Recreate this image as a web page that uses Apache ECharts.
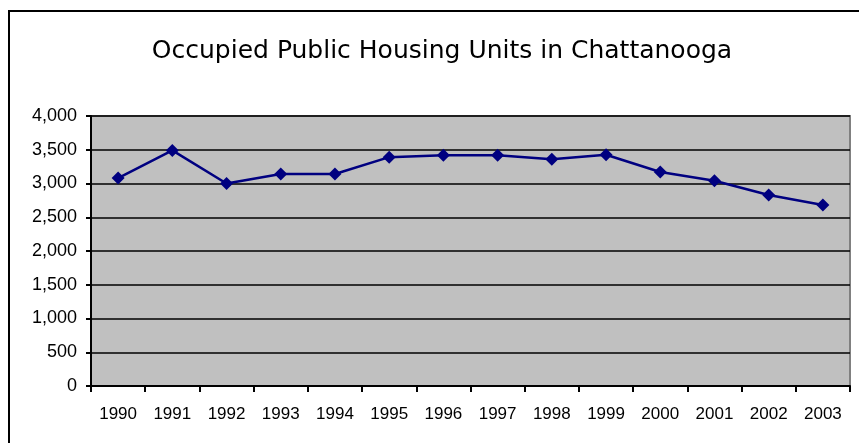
<!DOCTYPE html>
<html>
<head>
<meta charset="utf-8">
<script src="https://cdn.jsdelivr.net/npm/echarts@6/dist/echarts.min.js"></script>
<style>
  html, body { margin: 0; padding: 0; background: #fff; }
  #chart { width: 859px; height: 443px; }
</style>
</head>
<body>
<div id="chart"></div>
<script>
const years = ['1990', '1991', '1992', '1993', '1994', '1995', '1996', '1997', '1998', '1999', '2000', '2001', '2002', '2003'];
const occupiedUnits = [3080, 3490, 3000, 3140, 3140, 3390, 3420, 3420, 3360, 3425, 3170, 3040, 2830, 2680];
const yTicks = { min: 0, max: 4000, step: 500 };

const chart = echarts.init(document.getElementById('chart'));
const font = 'Liberation Sans, Arial, sans-serif';

chart.setOption({
  animation: false,
  backgroundColor: '#fff',
  graphic: [{
    type: 'rect',
    shape: { x: 9, y: 11, width: 870, height: 460 },
    style: { fill: 'none', stroke: '#000', lineWidth: 2 },
    silent: true
  }],
  title: {
    text: 'Occupied Public Housing Units in Chattanooga',
    left: 437,
    top: 34,
    textAlign: 'center',
    textStyle: { fontFamily: 'DejaVu Sans', fontSize: 25, fontWeight: 'normal', color: '#000' }
  },
  grid: {
    left: 91, right: 9, top: 116, bottom: 57,
    show: true,
    backgroundColor: '#C0C0C0',
    borderColor: '#808080',
    borderWidth: 2
  },
  xAxis: {
    type: 'category',
    data: years,
    boundaryGap: true,
    axisLine: { lineStyle: { color: '#000', width: 2 } },
    axisTick: { show: true, length: 6, lineStyle: { color: '#000', width: 2 } },
    axisLabel: { fontFamily: font, fontSize: 17, color: '#000', margin: 20 },
    splitLine: { show: false }
  },
  yAxis: {
    type: 'value',
    min: yTicks.min,
    max: yTicks.max,
    interval: yTicks.step,
    axisLine: { show: true, lineStyle: { color: '#000', width: 2 } },
    axisTick: { show: true, length: 5, lineStyle: { color: '#000', width: 2 } },
    axisLabel: {
      fontFamily: font, fontSize: 18, color: '#000', margin: 14,
      formatter: (v) => v.toLocaleString('en-US')
    },
    splitLine: { show: true, lineStyle: { color: '#000', width: 1.5 } }
  },
  series: [{
    type: 'line',
    data: occupiedUnits,
    symbol: 'diamond',
    symbolSize: 13,
    lineStyle: { color: '#000080', width: 2.5 },
    itemStyle: { color: '#000080' }
  }]
});
</script>
</body>
</html>
